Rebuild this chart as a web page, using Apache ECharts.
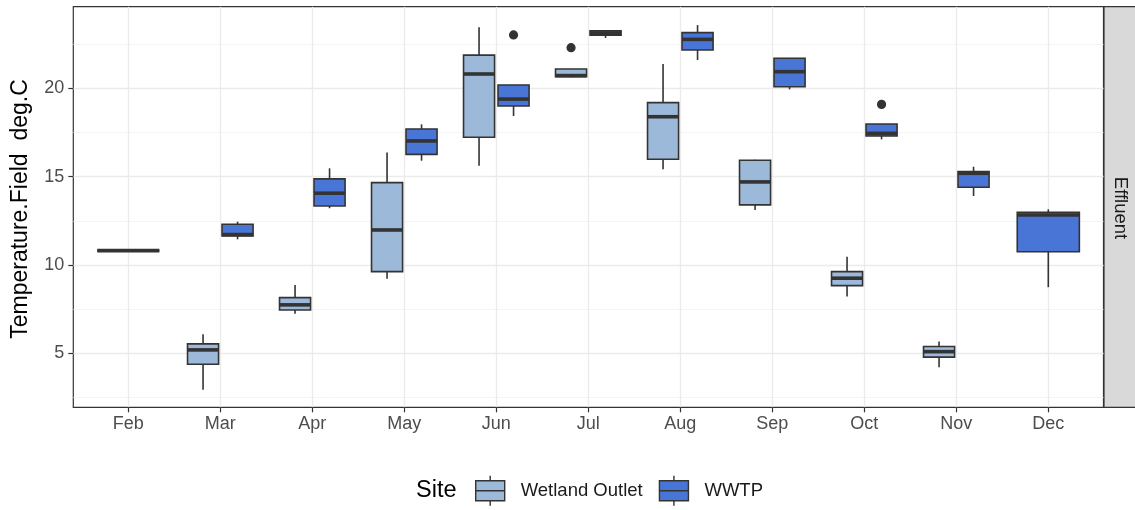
<!DOCTYPE html>
<html>
<head>
<meta charset="utf-8">
<script src="https://cdn.jsdelivr.net/npm/echarts@6/dist/echarts.min.js"></script>
<style>html,body{margin:0;padding:0;background:#fff;}#chart{width:1135px;height:510px;}</style>
</head>
<body>
<div id="chart"></div>
<script>
// ---- data ----
const months = ['Feb','Mar','Apr','May','Jun','Jul','Aug','Sep','Oct','Nov','Dec'];
// [lower whisker, Q1, median, Q3, upper whisker]
const wetlandStats = [
  null,
  [2.93, 4.38, 5.19, 5.53, 6.08],
  [7.23, 7.45, 7.74, 8.15, 8.87],
  [9.22, 9.62, 11.98, 14.66, 16.36],
  [15.62, 17.23, 20.81, 21.88, 23.45],
  [20.62, 20.65, 20.72, 21.09, 21.09],
  [15.42, 15.98, 18.39, 19.19, 21.38],
  [13.11, 13.40, 14.70, 15.93, 15.96],
  [8.21, 8.83, 9.25, 9.62, 10.47],
  [4.21, 4.78, 5.09, 5.38, 5.66],
  null
];
const wwtpStats = [
  [10.81, 10.81, 10.81, 10.81, 10.81],
  [11.45, 11.64, 11.72, 12.30, 12.45],
  [13.21, 13.34, 14.06, 14.87, 15.47],
  [15.90, 16.26, 17.02, 17.70, 17.96],
  [18.43, 19.00, 19.39, 20.19, 20.19],
  [22.85, 23.00, 23.12, 23.25, 23.25],
  [21.60, 22.17, 22.77, 23.15, 23.58],
  [19.94, 20.09, 20.94, 21.70, 21.70],
  [17.11, 17.30, 17.45, 17.98, 17.98],
  [13.90, 14.40, 15.19, 15.28, 15.56],
  [8.74, 10.75, 12.83, 12.98, 13.15]
];
const wetlandOutliers = [['Jul', 22.30]];
const wwtpOutliers = [['Jun', 23.02], ['Oct', 19.09]];
const yTicks = [5, 10, 15, 20];

// ---- build ----
function posOf(i, group) {
  const both = wetlandStats[i] && wwtpStats[i];
  if (!both) return 0;
  return group === 'wetland' ? -1 : 1;
}
function boxData(stats, group) {
  const out = [];
  stats.forEach((s, i) => { if (s) out.push([i, s[0], s[1], s[2], s[3], s[4], posOf(i, group)]); });
  return out;
}
function outData(list, group) {
  return list.map(([m, v]) => { const i = months.indexOf(m); return [i, v, posOf(i, group)]; });
}

const LIGHT = '#9DB9D9';
const DARK = '#4976D6';
const INK = '#333333';

function bandOf(api) {
  return api.coord([1, 0])[0] - api.coord([0, 0])[0];
}
function renderBox(params, api) {
  const idx = api.value(0);
  const pos = api.value(6);
  const band = bandOf(api);
  const w = pos === 0 ? 0.75 * 0.9 * band : 0.375 * 0.9 * band;
  const cx = api.coord([idx, 0])[0] + pos * 0.1875 * band;
  const yLow = api.coord([idx, api.value(1)])[1];
  const yQ1 = api.coord([idx, api.value(2)])[1];
  const yMed = api.coord([idx, api.value(3)])[1];
  const yQ3 = api.coord([idx, api.value(4)])[1];
  const yHigh = api.coord([idx, api.value(5)])[1];
  const lw = 1.6;
  return {
    type: 'group',
    children: [
      { type: 'line', shape: { x1: cx, y1: yHigh, x2: cx, y2: yQ3 }, style: { stroke: INK, lineWidth: lw } },
      { type: 'line', shape: { x1: cx, y1: yQ1, x2: cx, y2: yLow }, style: { stroke: INK, lineWidth: lw } },
      { type: 'rect', shape: { x: cx - w / 2, y: yQ3, width: w, height: yQ1 - yQ3 },
        style: { fill: api.visual('color'), stroke: INK, lineWidth: lw } },
      { type: 'line', shape: { x1: cx - w / 2, y1: yMed, x2: cx + w / 2, y2: yMed },
        style: { stroke: INK, lineWidth: 3.6, lineCap: 'butt' } }
    ]
  };
}
function renderOutlier(params, api) {
  const idx = api.value(0);
  const pos = api.value(2);
  const band = bandOf(api);
  const c = api.coord([idx, api.value(1)]);
  return { type: 'circle', shape: { cx: c[0] + pos * 0.1875 * band, cy: c[1], r: 4.6 }, style: { fill: INK } };
}

const yMin = 1.94, yMax = 24.62;
const gridTop = 6.7, gridBottom = 510 - 407.3;
const font = '"Liberation Sans", Arial, sans-serif';
const boxIcon = 'path://M0,5L29,5L29,25L0,25Z M0,15L29,15 M14.5,0L14.5,5 M14.5,25L14.5,30';

const chart = echarts.init(document.getElementById('chart'), null, { renderer: 'canvas' });
chart.setOption({
  animation: false,
  backgroundColor: '#ffffff',
  textStyle: { fontFamily: font },
  grid: [
    { left: 73.3, right: 1135 - 1103.5, top: gridTop, bottom: gridBottom, show: true, backgroundColor: 'transparent', borderColor: INK, borderWidth: 1.2 },
    { left: 128.3, right: 1135 - 1048.3, top: gridTop, bottom: gridBottom, show: false }
  ],
  xAxis: [
    { type: 'value', gridIndex: 0, min: 0, max: 1, show: false },
    { type: 'category', gridIndex: 1, data: months, boundaryGap: false,
      axisLine: { show: false },
      axisTick: { show: true, length: 5, lineStyle: { color: INK, width: 1.2 } },
      axisLabel: { color: '#4D4D4D', fontSize: 18, margin: 8, fontFamily: font },
      splitLine: { show: true, lineStyle: { color: '#EBEBEB', width: 1.3 } } }
  ],
  yAxis: [
    { type: 'value', gridIndex: 0, min: yMin, max: yMax, splitNumber: 5, minInterval: 5, maxInterval: 5,
      axisLine: { show: false },
      axisTick: { show: true, length: 5, lineStyle: { color: INK, width: 1.2 }, customValues: yTicks },
      axisLabel: { color: '#4D4D4D', fontSize: 18, margin: 9, fontFamily: font, customValues: yTicks },
      splitLine: { show: true, lineStyle: { color: '#EBEBEB', width: 1.4 } },
      minorTick: { show: false, splitNumber: 2 },
      minorSplitLine: { show: true, lineStyle: { color: '#F1F1F1', width: 0.8 } } },
    { type: 'value', gridIndex: 1, min: yMin, max: yMax, show: false }
  ],
  legend: {
    data: ['Wetland Outlet', 'WWTP'],
    left: 475, top: 475, padding: 0,
    itemWidth: 29, itemHeight: 30, itemGap: 16,
    icon: boxIcon,
    itemStyle: { borderColor: INK, borderWidth: 1.4 },
    textStyle: { color: '#1A1A1A', fontSize: 18.5, fontFamily: font, padding: [0, 0, 0, 11] },
    selectedMode: false
  },
  graphic: [
    { type: 'text', x: 416, y: 491, style: { text: 'Site', fontSize: 23.5, fontFamily: font, fill: '#000', align: 'left', verticalAlign: 'middle' } },
    { type: 'text', x: 21, y: 209, rotation: Math.PI / 2,
      style: { text: 'Temperature.Field  deg.C', fontSize: 23, fontFamily: font, fill: '#000', align: 'center', verticalAlign: 'middle' } },
    { type: 'rect', shape: { x: 1104, y: gridTop, width: 40, height: 407.3 - gridTop },
      style: { fill: '#D9D9D9', stroke: INK, lineWidth: 1.2 } },
    { type: 'text', x: 1120, y: 208, rotation: -Math.PI / 2,
      style: { text: 'Effluent', fontSize: 18.5, fontFamily: font, fill: '#1A1A1A', align: 'center', verticalAlign: 'middle' } }
  ],
  series: [
    { name: 'Wetland Outlet', type: 'custom', xAxisIndex: 1, yAxisIndex: 1, clip: false,
      itemStyle: { color: LIGHT }, renderItem: renderBox, data: boxData(wetlandStats, 'wetland'),
      encode: { x: 0, y: [1, 2, 3, 4, 5] }, z: 3 },
    { name: 'WWTP', type: 'custom', xAxisIndex: 1, yAxisIndex: 1, clip: false,
      itemStyle: { color: DARK }, renderItem: renderBox, data: boxData(wwtpStats, 'wwtp'),
      encode: { x: 0, y: [1, 2, 3, 4, 5] }, z: 3 },
    { name: 'Wetland Outlet outliers', type: 'custom', xAxisIndex: 1, yAxisIndex: 1, clip: false,
      itemStyle: { color: INK }, renderItem: renderOutlier, data: outData(wetlandOutliers, 'wetland'),
      encode: { x: 0, y: 1 }, z: 3 },
    { name: 'WWTP outliers', type: 'custom', xAxisIndex: 1, yAxisIndex: 1, clip: false,
      itemStyle: { color: INK }, renderItem: renderOutlier, data: outData(wwtpOutliers, 'wwtp'),
      encode: { x: 0, y: 1 }, z: 3 }
  ]
});
</script>
</body>
</html>
